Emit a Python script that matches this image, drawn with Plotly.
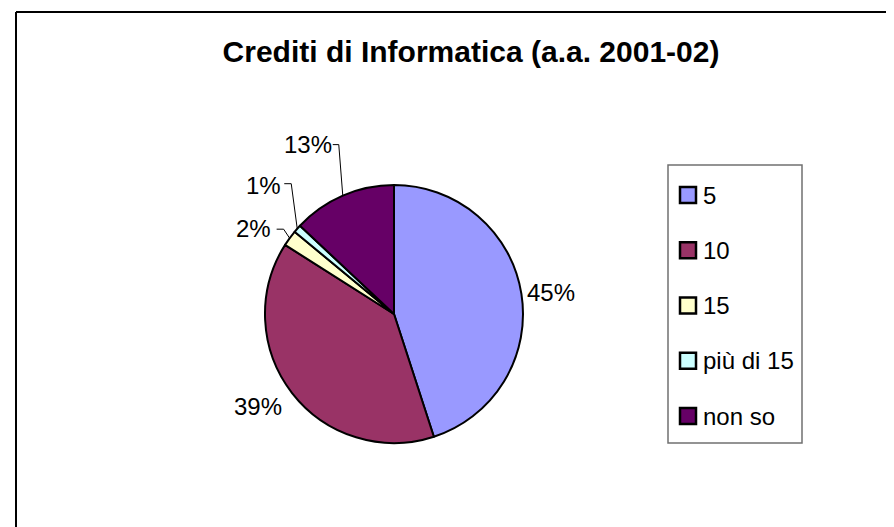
import math
import plotly.graph_objects as go

# ---- data ----
labels = ["5", "10", "15", "più di 15", "non so"]
values = [45, 39, 2, 1, 13]
colors = ["#9999FF", "#993366", "#FFFFCC", "#CCFFFF", "#660066"]
title_text = "Crediti di Informatica (a.a. 2001-02)"

# ---- layout constants (pixels) ----
W, H = 894, 527
CX, CY, R = 386, 306, 129
FONT = "Liberation Sans, Arial, sans-serif"


def px(x):
    return x / W


def py(y):
    return 1 - y / H


fig = go.Figure(
    go.Pie(
        labels=labels,
        values=values,
        sort=False,
        direction="clockwise",
        rotation=0,
        marker=dict(colors=colors, line=dict(color="black", width=2)),
        textinfo="none",
        hoverinfo="label+percent",
        showlegend=False,
        domain=dict(x=[px(CX - R), px(CX + R)], y=[py(CY + R), py(CY - R)]),
    )
)

total = sum(values)
# label offsets from the slice's outer edge midpoint, plus leader line bends
label_style = {
    0: dict(off=(30, -1), leader=None),
    1: dict(off=(-34, 13), leader=None),
    2: dict(off=(-36, -10), leader=[(-6, -9), (-13, -9)]),
    3: dict(off=(-34, -43), leader=[(-6, -45), (-13, -45)]),
    4: dict(off=(-35, -51), leader=[(-4, -51), (-10, -51)]),
}

annotations = []
shapes = []
cum = 0
for i, v in enumerate(values):
    mid = (cum + v / 2) / total * 2 * math.pi
    cum += v
    ex = CX + R * math.sin(mid)
    ey = CY - R * math.cos(mid)
    st = label_style[i]
    lx, ly = ex + st["off"][0], ey + st["off"][1]
    pct = f"{round(v / total * 100)}%"
    annotations.append(dict(
        x=px(lx), y=py(ly), xref="paper", yref="paper", text=pct,
        showarrow=False, xanchor="center", yanchor="middle",
        font=dict(family=FONT, size=24, color="black"),
    ))
    if st["leader"]:
        pts = [(ex, ey)] + [(ex + dx, ey + dy) for dx, dy in st["leader"]]
        path = "M " + " L ".join(f"{px(x)},{py(y)}" for x, y in pts)
        shapes.append(dict(type="path", path=path, xref="paper", yref="paper",
                           line=dict(color="black", width=1)))

# ---- legend (manual, Excel style) ----
LX0, LX1, LY0, LY1 = 660, 794, 157, 435
shapes.append(dict(type="rect", xref="paper", yref="paper",
                   x0=px(LX0), x1=px(LX1), y0=py(LY1), y1=py(LY0),
                   line=dict(color="#707070", width=1.5), fillcolor="white", layer="below"))
first_y, step = 187, 55.25
for i, (lab, col) in enumerate(zip(labels, colors)):
    yy = first_y + i * step
    shapes.append(dict(type="rect", xref="paper", yref="paper",
                       x0=px(672), x1=px(688), y0=py(yy + 8), y1=py(yy - 8),
                       line=dict(color="black", width=2.5), fillcolor=col))
    annotations.append(dict(
        x=px(693), y=py(yy), xref="paper", yref="paper", text=lab,
        showarrow=False, xanchor="left", yanchor="middle",
        font=dict(family=FONT, size=24, color="black"),
    ))

# ---- chart-area border (top and left edges visible) ----
shapes.append(dict(type="line", xref="paper", yref="paper",
                   x0=px(8), x1=px(W + 5), y0=py(4), y1=py(4),
                   line=dict(color="black", width=2)))
shapes.append(dict(type="line", xref="paper", yref="paper",
                   x0=px(8), x1=px(8), y0=py(4), y1=py(H + 5),
                   line=dict(color="black", width=2)))

fig.update_layout(
    width=W, height=H, autosize=False,
    margin=dict(l=0, r=0, t=0, b=0),
    paper_bgcolor="white", plot_bgcolor="white",
    title=dict(text=f"<b>{title_text}</b>", x=px(463), y=py(43),
               xanchor="center", yanchor="middle",
               font=dict(family=FONT, size=30, color="black")),
    annotations=annotations,
    shapes=shapes,
)

fig.write_html("out.html")
